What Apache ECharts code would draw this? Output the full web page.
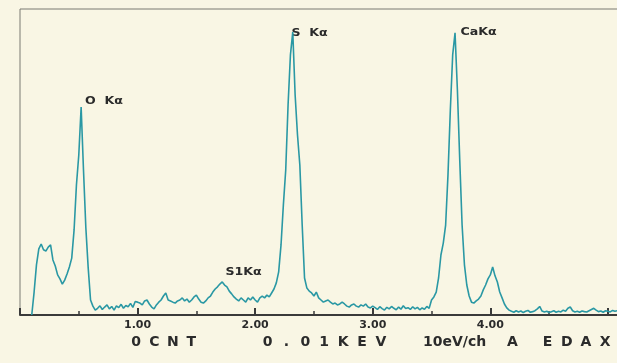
<!DOCTYPE html>
<html>
<head>
<meta charset="utf-8">
<script src="https://cdn.jsdelivr.net/npm/echarts@6/dist/echarts.min.js"></script>
<style>
  html, body { margin: 0; padding: 0; background: #f9f6e4; }
  #chart { width: 617px; height: 363px; }
</style>
</head>
<body>
<div id="chart"></div>
<script>
// EDAX spectrum, 0.02 keV steps starting at 0.10 keV
const startKeV = 0.10;
const stepKeV = 0.02;
const counts = [
  0, 75, 164, 216, 232, 213, 209, 222, 229, 180,
  160, 131, 118, 101, 114, 134, 157, 186, 278, 425,
  523, 680, 474, 285, 154, 49, 29, 16,
  22, 30, 18, 26, 33, 20, 28, 16, 30, 24, 35, 22, 31, 27, 38, 25, 44,
  42, 39, 33, 46, 49, 36, 26, 20, 33, 42,
  49, 62, 72, 49, 46, 42, 39, 46, 49, 56,
  46, 52, 42, 49, 59, 65, 52, 42, 39, 46,
  56, 62, 75, 85, 92, 101, 108, 98, 92, 78,
  69, 59, 52, 46, 56, 49, 42, 56, 49, 59,
  49, 42, 56, 62, 56, 65, 59, 72, 85, 105,
  141, 229, 360, 474, 687, 850, 925, 719, 589, 490,
  294, 121, 88, 78, 72, 62, 75, 56, 49, 42,
  46, 49, 42, 36, 39, 33, 36, 42, 36, 29,
  26, 33, 36, 29, 26, 33, 29, 36, 26, 23,
  29, 24, 18, 27, 21, 16, 25, 20, 28, 22,
  17, 26, 19, 30, 21, 24, 18, 27, 20, 25,
  17, 23, 19, 28, 22, 49, 59, 75, 121, 196,
  235, 294, 458, 670, 850, 922, 736, 507, 294, 164,
  98, 62, 42, 39, 46, 52, 62, 82, 98, 118,
  131, 157, 128, 108, 75, 56, 36, 23, 16, 12,
  9, 14, 10, 13, 8, 12, 15, 9, 11, 14,
  20, 28, 13, 10, 12, 8, 11, 14, 9, 12,
  10, 16, 12, 22, 26, 14, 10, 12, 9, 13,
  11, 10, 14, 18, 22, 16, 11, 13, 9, 14,
  12, 10, 15, 12, 14, 11
];
const tickLabels = ["1.00", "2.00", "3.00", "4.00"];
const peakLabels = ["O  K\u03b1", "S1K\u03b1", "S  K\u03b1", "CaK\u03b1"];
const footerGroups = [
  { chars: ["0", "C", "N", "T"], x0: 136, pitch: 18.4 },
  { chars: ["0", ".", "0", "1", "K", "E", "V"], x0: 267.5, pitch: 18.9 },
  { chars: ["E", "D", "A", "X"], x0: 547.5, pitch: 19.2 }
];

const ink = "#2b2b2b";
const labelFont = 'bold 10.5px "DejaVu Sans"';
const footFont = 'bold 14px "DejaVu Sans"';
const peakPos = [[85, 101], [225.5, 272.5], [291.5, 33], [460.5, 32]];

const graphics = [];
peakLabels.forEach((t, i) => {
  graphics.push({
    type: "text", x: peakPos[i][0], y: peakPos[i][1], scaleX: 1.2,
    style: { text: t, font: labelFont, fill: ink, textVerticalAlign: "middle" }
  });
});
footerGroups.forEach(g => {
  g.chars.forEach((c, i) => {
    graphics.push({
      type: "text", x: g.x0 + i * g.pitch, y: 342,
      style: { text: c, font: footFont, fill: ink, textAlign: "center", textVerticalAlign: "middle" }
    });
  });
});
graphics.push({ type: "text", x: 423, y: 342,
  style: { text: "10eV/ch", font: footFont, fill: ink, textVerticalAlign: "middle" } });
graphics.push({ type: "text", x: 512.5, y: 342,
  style: { text: "A", font: footFont, fill: ink, textAlign: "center", textVerticalAlign: "middle" } });

const chart = echarts.init(document.getElementById("chart"));
chart.setOption({
  backgroundColor: "#f9f6e4",
  animation: false,
  grid: { left: 20, top: 9, width: 602, height: 306, show: true,
          outerBoundsMode: "none", containLabel: false,
          borderColor: "#7a7a72", borderWidth: 1, backgroundColor: "transparent" },
  xAxis: {
    type: "value", min: 0, max: 5.12, interval: 1,
    axisLine: { show: true, onZero: false, lineStyle: { color: "#3a3a3a", width: 2 } },
    axisTick: { show: true, inside: true, length: 7, lineStyle: { color: "#3a3a3a", width: 2 } },
    minorTick: { show: true, splitNumber: 2, length: 4, lineStyle: { color: "#3a3a3a", width: 1.5 } },
    splitLine: { show: false },
    axisLabel: {
      margin: 5, color: ink, fontFamily: "DejaVu Sans", fontWeight: "bold", fontSize: 11,
      formatter: v => tickLabels.find(t => Math.abs(parseFloat(t) - v) < 1e-6) || ""
    }
  },
  yAxis: {
    type: "value", min: 0, max: 1000,
    axisLine: { show: false }, axisTick: { show: false },
    axisLabel: { show: false }, splitLine: { show: false }
  },
  series: [{
    type: "line",
    data: counts.map((c, i) => [startKeV + i * stepKeV, c]),
    showSymbol: false,
    lineStyle: { color: "#2a98a4", width: 1.6 },
    z: 1
  }],
  graphic: graphics
});
</script>
</body>
</html>
